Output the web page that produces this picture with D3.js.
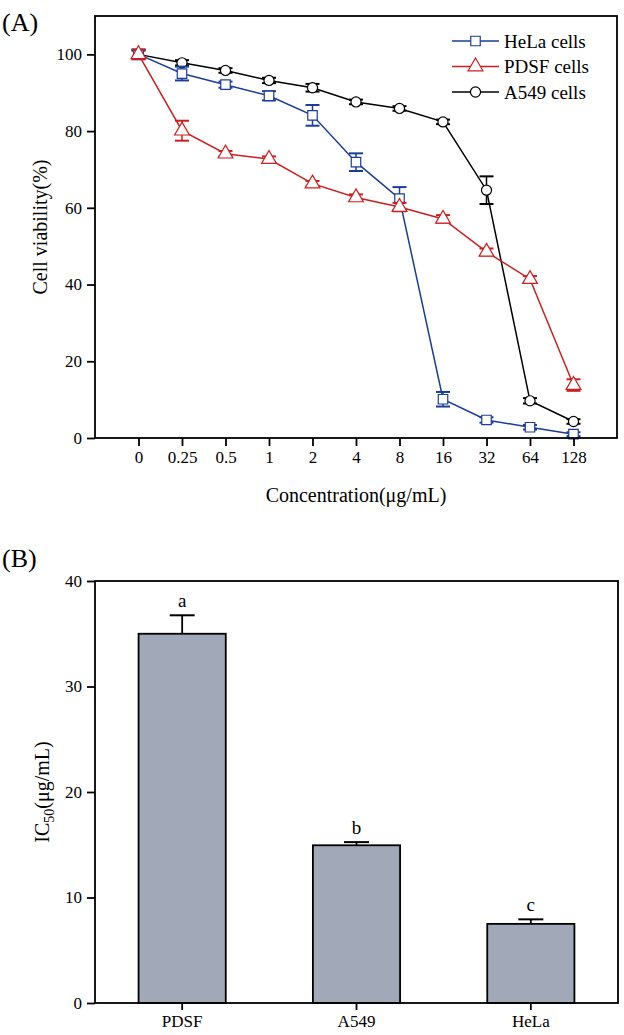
<!DOCTYPE html>
<html>
<head>
<meta charset="utf-8">
<script src="https://cdn.jsdelivr.net/npm/d3@7"></script>
<style>
  body { margin: 0; background: #fff; }
  svg text { font-family: "Liberation Serif", "Times New Roman", serif; fill: #000; }
</style>
</head>
<body>
<div id="chart"></div>
<script>
// Panel A data: viability (%) per concentration
const concLabels = ["0", "0.25", "0.5", "1", "2", "4", "8", "16", "32", "64", "128"];
const helaMean = [100, 95.0, 92.1, 89.2, 84.1, 71.9, 62.4, 10.1, 4.7, 2.8, 1.0];
const helaErr = [1.3, 1.8, 0.8, 1.2, 2.7, 2.3, 3.0, 1.9, 0.7, 0.6, 0.5];
const pdsfMean = [100, 80.1, 74.1, 72.7, 66.3, 62.7, 60.2, 57.1, 48.5, 41.4, 13.8];
const pdsfErr = [1.2, 2.6, 0.7, 0.7, 0.7, 0.8, 1.1, 1.0, 0.9, 0.8, 1.5];
const a549Mean = [100, 97.8, 95.8, 93.2, 91.3, 87.6, 85.9, 82.4, 64.6, 9.7, 4.3];
const a549Err = [1.0, 0.7, 0.6, 0.7, 1.0, 0.6, 0.6, 0.6, 3.6, 0.7, 0.6];
const viabilityTicks = [0, 20, 40, 60, 80, 100];

// Panel B data: IC50 values
const ic50Cells = ["PDSF", "A549", "HeLa"];
const ic50Mean = [35.0, 14.95, 7.5];
const ic50Err = [1.75, 0.3, 0.43];
const ic50Letters = ["a", "b", "c"];
const ic50Ticks = [0, 10, 20, 30, 40];

const W = 624, H = 1035;
const svg = d3.select("#chart").append("svg")
  .attr("width", W).attr("height", H);

// ---------- Panel A ----------
const A = { left: 95, top: 16, right: 617, bottom: 438 };

const xA = d3.scaleLinear([-1, concLabels.length], [A.left, A.right]);
const yA = d3.scaleLinear([0, 110], [A.bottom, A.top]);

const series = [
  { name: "A549 cells", mean: a549Mean, err: a549Err, color: "#000000", shape: "circle" },
  { name: "HeLa cells", mean: helaMean, err: helaErr, color: "#1a3d9a", shape: "square" },
  { name: "PDSF cells", mean: pdsfMean, err: pdsfErr, color: "#cc1f1f", shape: "triangle" }
];

const symbols = {
  circle: d3.symbol(d3.symbolCircle, 80),
  square: d3.symbol(d3.symbolSquare, 90),
  triangle: d3.symbol(d3.symbolTriangle, 95)
};

const gA = svg.append("g");

const line = d3.line()
  .x((d, i) => xA(i))
  .y((d) => yA(d));

series.forEach((s) => {
  const g = gA.append("g");
  g.append("path")
    .datum(s.mean)
    .attr("fill", "none")
    .attr("stroke", s.color)
    .attr("stroke-width", 1.5)
    .attr("d", line);

  const eb = g.selectAll(".eb")
    .data(s.mean.map((m, i) => ({ i, m, e: s.err[i] })))
    .enter().append("g");
  eb.append("line")
    .attr("x1", (d) => xA(d.i)).attr("x2", (d) => xA(d.i))
    .attr("y1", (d) => yA(d.m - d.e)).attr("y2", (d) => yA(d.m + d.e))
    .attr("stroke", s.color).attr("stroke-width", 1.5);
  [-1, 1].forEach((sign) => {
    eb.append("line")
      .attr("x1", (d) => xA(d.i) - 7).attr("x2", (d) => xA(d.i) + 7)
      .attr("y1", (d) => yA(d.m + sign * d.e)).attr("y2", (d) => yA(d.m + sign * d.e))
      .attr("stroke", s.color).attr("stroke-width", 2);
  });

  g.selectAll(".pt")
    .data(s.mean)
    .enter().append("path")
    .attr("transform", (d, i) => `translate(${xA(i)},${yA(d)})`)
    .attr("d", symbols[s.shape])
    .attr("fill", "#fff")
    .attr("stroke", s.color)
    .attr("stroke-width", 1.2);
});

// frame
gA.append("rect")
  .attr("x", A.left).attr("y", A.top)
  .attr("width", A.right - A.left).attr("height", A.bottom - A.top)
  .attr("fill", "none").attr("stroke", "#000").attr("stroke-width", 1.8);

gA.append("g")
  .attr("transform", `translate(0,${A.bottom})`)
  .call(d3.axisBottom(xA)
    .tickValues(d3.range(concLabels.length))
    .tickFormat((i) => concLabels[i])
    .tickSize(8).tickPadding(5).tickSizeOuter(0))
  .call((g) => g.select(".domain").remove())
  .call((g) => g.selectAll("line").attr("stroke-width", 1.8))
  .call((g) => g.selectAll("text").style("font-size", "17px"));

gA.append("g")
  .attr("transform", `translate(${A.left},0)`)
  .call(d3.axisLeft(yA)
    .tickValues(viabilityTicks)
    .tickSize(8).tickPadding(5).tickSizeOuter(0))
  .call((g) => g.select(".domain").remove())
  .call((g) => g.selectAll("line").attr("stroke-width", 1.8))
  .call((g) => g.selectAll("text").style("font-size", "17px"));

svg.append("text")
  .attr("x", (A.left + A.right) / 2 + 0).attr("y", 502)
  .attr("text-anchor", "middle")
  .style("font-size", "20px")
  .text("Concentration(\u03BCg/mL)");

svg.append("text")
  .attr("transform", `translate(47,${(A.top + A.bottom) / 2}) rotate(-90)`)
  .attr("text-anchor", "middle")
  .style("font-size", "20px")
  .text("Cell viability(%)");

svg.append("text")
  .attr("x", 2).attr("y", 31)
  .style("font-size", "26px")
  .text("(A)");

// legend
const legendOrder = [series[1], series[2], series[0]];
const lg = svg.append("g");
legendOrder.forEach((s, i) => {
  const cy = 41 + i * 25.5;
  lg.append("line")
    .attr("x1", 452).attr("x2", 499).attr("y1", cy).attr("y2", cy)
    .attr("stroke", s.color).attr("stroke-width", 1.5);
  lg.append("path")
    .attr("transform", `translate(475.5,${cy})`)
    .attr("d", symbols[s.shape])
    .attr("fill", "#fff").attr("stroke", s.color).attr("stroke-width", 1.2);
  lg.append("text")
    .attr("x", 504).attr("y", cy + 6.5)
    .style("font-size", "19px")
    .text(s.name);
});

// ---------- Panel B ----------
const B = { left: 95, top: 581, right: 618, bottom: 1003 };

const xB = d3.scaleBand(ic50Cells, [B.left, B.right])
  .paddingInner(0.5).paddingOuter(0.25);
const yB = d3.scaleLinear([0, 40], [B.bottom, B.top]);

const gB = svg.append("g");

const bars = gB.selectAll(".bar")
  .data(ic50Cells.map((c, i) => ({ c, m: ic50Mean[i], e: ic50Err[i], l: ic50Letters[i] })))
  .enter().append("g");

bars.append("line")
  .attr("x1", (d) => xB(d.c) + xB.bandwidth() / 2)
  .attr("x2", (d) => xB(d.c) + xB.bandwidth() / 2)
  .attr("y1", (d) => yB(d.m)).attr("y2", (d) => yB(d.m + d.e))
  .attr("stroke", "#000").attr("stroke-width", 1.8);
bars.append("line")
  .attr("x1", (d) => xB(d.c) + xB.bandwidth() / 2 - 12.5)
  .attr("x2", (d) => xB(d.c) + xB.bandwidth() / 2 + 12.5)
  .attr("y1", (d) => yB(d.m + d.e)).attr("y2", (d) => yB(d.m + d.e))
  .attr("stroke", "#000").attr("stroke-width", 2);

bars.append("rect")
  .attr("x", (d) => xB(d.c))
  .attr("y", (d) => yB(d.m))
  .attr("width", xB.bandwidth())
  .attr("height", (d) => yB(0) - yB(d.m))
  .attr("fill", "#a1a9b8")
  .attr("stroke", "#000").attr("stroke-width", 1.8);

bars.append("text")
  .attr("x", (d) => xB(d.c) + xB.bandwidth() / 2)
  .attr("y", (d) => yB(d.m + d.e) - 8)
  .attr("text-anchor", "middle")
  .style("font-size", "19px")
  .text((d) => d.l);

gB.append("rect")
  .attr("x", B.left).attr("y", B.top)
  .attr("width", B.right - B.left).attr("height", B.bottom - B.top)
  .attr("fill", "none").attr("stroke", "#000").attr("stroke-width", 1.8);

gB.append("g")
  .attr("transform", `translate(0,${B.bottom})`)
  .call(d3.axisBottom(xB).tickSize(7).tickPadding(5).tickSizeOuter(0))
  .call((g) => g.select(".domain").remove())
  .call((g) => g.selectAll("line").attr("stroke-width", 1.8))
  .call((g) => g.selectAll("text").style("font-size", "17px"));

gB.append("g")
  .attr("transform", `translate(${B.left},0)`)
  .call(d3.axisLeft(yB).tickValues(ic50Ticks).tickSize(8).tickPadding(5).tickSizeOuter(0))
  .call((g) => g.select(".domain").remove())
  .call((g) => g.selectAll("line").attr("stroke-width", 1.8))
  .call((g) => g.selectAll("text").style("font-size", "17px"));

const ic50Title = svg.append("text")
  .attr("transform", `translate(49,${(B.top + B.bottom) / 2}) rotate(-90)`)
  .attr("text-anchor", "middle")
  .style("font-size", "20px");
ic50Title.append("tspan").text("IC");
ic50Title.append("tspan").attr("dy", 5).style("font-size", "14px").text("50");
ic50Title.append("tspan").attr("dy", -5).text("(\u03BCg/mL)");

svg.append("text")
  .attr("x", 2).attr("y", 567)
  .style("font-size", "26px")
  .text("(B)");
</script>
</body>
</html>
